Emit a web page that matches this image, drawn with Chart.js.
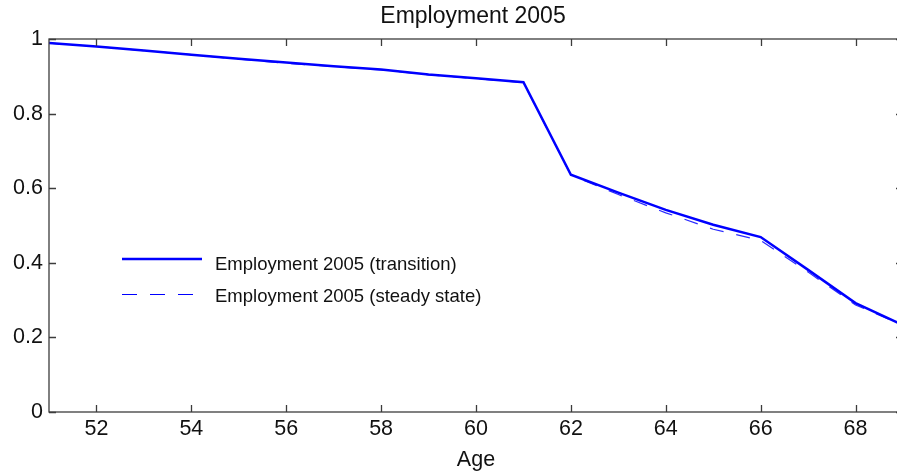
<!DOCTYPE html>
<html>
<head>
<meta charset="utf-8">
<script src="https://cdn.jsdelivr.net/npm/chart.js@4"></script>
<style>
  html, body { margin: 0; padding: 0; background: #fff; overflow: hidden; }
  #wrap { width: 897px; height: 476px; overflow: hidden; }
  #box { width: 910px; height: 476px; }
</style>
</head>
<body>
<div id="wrap"><div id="box"><canvas id="chart"></canvas></div></div>
<script>
// data
const ages = [51, 52, 53, 54, 55, 56, 57, 58, 59, 60, 61, 62, 63, 64, 65, 66, 67, 68, 69];
const transition = [0.989, 0.980, 0.969, 0.958, 0.947, 0.937, 0.927, 0.918, 0.905, 0.895, 0.884, 0.636, 0.588, 0.542, 0.502, 0.469, 0.381, 0.292, 0.233];
const steadyState = [0.989, 0.980, 0.969, 0.958, 0.946, 0.935, 0.926, 0.917, 0.904, 0.894, 0.883, 0.635, 0.583, 0.534, 0.490, 0.460, 0.375, 0.287, 0.232];
const xTicks = [52, 54, 56, 58, 60, 62, 64, 66, 68];
const yTicks = [0, 0.2, 0.4, 0.6, 0.8, 1];
const labels = ['Employment 2005 (transition)', 'Employment 2005 (steady state)'];
const title = 'Employment 2005';

const FONT = '"Liberation Sans", Arial, sans-serif';
const AXIS = '#3c3c3c';

function points(ys) {
    return ages.map((a, i) => ({ x: a, y: ys[i] }));
}

// box, inward ticks, title and legend (MATLAB look)
const matlabPlugin = {
    id: 'matlab',
    afterDraw(chart) {
        const ctx = chart.ctx;
        const a = chart.chartArea;
        const xs = chart.scales.x;
        const ys = chart.scales.y;
        ctx.save();
        ctx.strokeStyle = AXIS;
        ctx.lineWidth = 1.3;
        ctx.strokeRect(a.left, a.top, a.right - a.left, a.bottom - a.top);
        const len = 7;
        ctx.beginPath();
        xTicks.forEach(v => {
            const px = Math.round(xs.getPixelForValue(v)) + 0.5;
            ctx.moveTo(px, a.bottom); ctx.lineTo(px, a.bottom - len);
            ctx.moveTo(px, a.top); ctx.lineTo(px, a.top + len);
        });
        yTicks.forEach(v => {
            const py = Math.round(ys.getPixelForValue(v)) + 0.5;
            ctx.moveTo(a.left, py); ctx.lineTo(a.left + len, py);
            ctx.moveTo(a.right, py); ctx.lineTo(a.right - len, py);
        });
        ctx.stroke();

        // title
        ctx.fillStyle = '#111';
        ctx.font = '23px ' + FONT;
        ctx.textAlign = 'center';
        ctx.textBaseline = 'middle';
        ctx.fillText(title, 473, 17);

        // legend
        ctx.font = '18.5px ' + FONT;
        ctx.textAlign = 'left';
        ctx.strokeStyle = '#0000ff';
        ctx.lineWidth = 2.5;
        ctx.beginPath();
        ctx.moveTo(122, 259); ctx.lineTo(202, 259);
        ctx.stroke();
        ctx.fillText(labels[0], 215, 265);
        ctx.lineWidth = 1.2;
        ctx.setLineDash([15, 13]);
        ctx.beginPath();
        ctx.moveTo(122, 294.5); ctx.lineTo(202, 294.5);
        ctx.stroke();
        ctx.setLineDash([]);
        ctx.fillText(labels[1], 215, 297);
        ctx.restore();
    }
};

new Chart(document.getElementById('chart'), {
    type: 'line',
    data: {
        datasets: [
            {
                label: labels[0],
                data: points(transition),
                borderColor: '#0000ff',
                borderWidth: 2.5,
                pointRadius: 0,
                tension: 0,
                order: 1
            },
            {
                label: labels[1],
                data: points(steadyState),
                borderColor: '#2a2aff',
                borderWidth: 1.2,
                borderDash: [14, 13],
                pointRadius: 0,
                tension: 0,
                order: 2
            }
        ]
    },
    options: {
        responsive: true,
        maintainAspectRatio: false,
        animation: false,
        layout: { padding: { top: 39, right: 7, left: 0, bottom: 0 } },
        plugins: {
            legend: { display: false },
            title: { display: false },
            tooltip: { enabled: false }
        },
        scales: {
            x: {
                type: 'linear',
                min: 51,
                max: 69,
                grid: { display: false, drawTicks: false },
                border: { display: false },
                afterBuildTicks: s => { s.ticks = xTicks.map(v => ({ value: v })); },
                afterFit: s => { s.height = 64; },
                ticks: {
                    padding: 4,
                    color: '#111',
                    font: { family: FONT, size: 21.5 },
                    maxRotation: 0,
                    autoSkip: false,
                    callback: v => String(v)
                },
                title: {
                    display: true,
                    text: 'Age',
                    color: '#111',
                    font: { family: FONT, size: 21.5 },
                    padding: { top: 0, bottom: 3 }
                }
            },
            y: {
                type: 'linear',
                min: 0,
                max: 1,
                grid: { display: false, drawTicks: false },
                border: { display: false },
                afterBuildTicks: s => { s.ticks = yTicks.map(v => ({ value: v })); },
                afterFit: s => { s.width = 49; },
                ticks: {
                    padding: 6,
                    color: '#111',
                    font: { family: FONT, size: 21.5 },
                    autoSkip: false,
                    callback: v => String(v)
                }
            }
        }
    },
    plugins: [matlabPlugin]
});
</script>
</body>
</html>
